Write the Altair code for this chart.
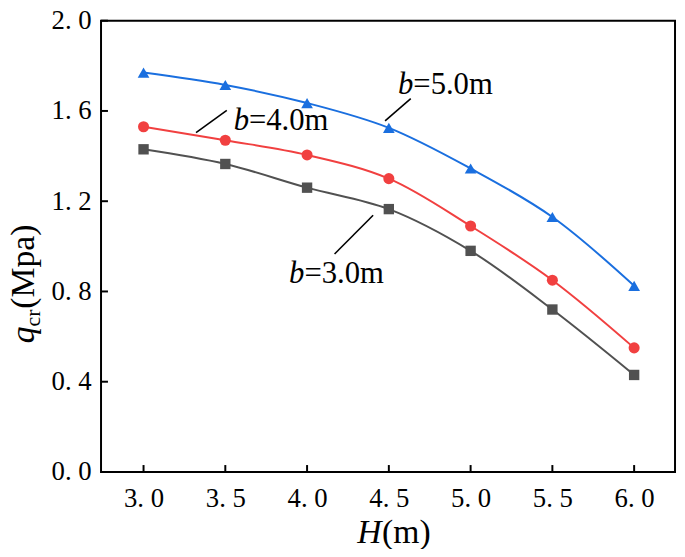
import altair as alt
import pandas as pd

# ---------------- data ----------------
H = [3.0, 3.5, 4.0, 4.5, 5.0, 5.5, 6.0]
q_b3 = [1.43, 1.365, 1.26, 1.165, 0.98, 0.72, 0.43]
q_b4 = [1.53, 1.47, 1.405, 1.30, 1.09, 0.85, 0.55]
q_b5 = [1.77, 1.715, 1.635, 1.525, 1.345, 1.13, 0.825]

series_names = ["b=3.0m", "b=4.0m", "b=5.0m"]
colors = ["#515151", "#F14040", "#1A6FDF"]
shapes = ["square", "circle", "triangle-up"]
marker_sizes = [110, 140, 170]

x_ticks = [3.0, 3.5, 4.0, 4.5, 5.0, 5.5, 6.0]
y_ticks = [0.0, 0.4, 0.8, 1.2, 1.6, 2.0]

# annotation texts (italic "b" + rest) and their anchor in data units
ann_b = ["b", "b", "b"]
ann_rest = ["=3.0m", "=4.0m", "=5.0m"]
ann_x = [3.890, 3.551, 4.556]
ann_y = [0.836, 1.517, 1.677]
# leader lines in data units
lead_x = [4.404, 3.321, 4.477]
lead_y = [1.138, 1.504, 1.556]
lead_x2 = [4.168, 3.509, 4.634]
lead_y2 = [0.966, 1.603, 1.655]

# ---------------- build ----------------
W, HT = 580, 456
FONT = "Liberation Serif"

rows = []
for name, vals in zip(series_names, [q_b3, q_b4, q_b5]):
    for h, q in zip(H, vals):
        rows.append({"H": h, "q": q, "series": name})
df = pd.DataFrame(rows)

xscale = alt.Scale(domain=[2.74, 6.25], nice=False, zero=False)
yscale = alt.Scale(domain=[0, 2], nice=False, zero=False)

label_expr = "replace(format(datum.value, '.1f'), '.', '. ')"
xaxis = alt.Axis(values=x_ticks, title=None, domain=False, ticks=False, tickSize=0,
                 grid=False, labelExpr=label_expr, labelFont=FONT, labelFontSize=27,
                 labelColor="black", labelPadding=14, labelOverlap=False, labelBound=False)
yaxis = alt.Axis(values=y_ticks, title=None, domain=False, ticks=False, tickSize=0,
                 grid=False, labelExpr=label_expr, labelFont=FONT, labelFontSize=27,
                 labelColor="black", labelPadding=10, labelOverlap=False, labelBound=False)


def X(f):
    return alt.X(f, type="quantitative", scale=xscale, axis=xaxis, title=None)


def Y(f):
    return alt.Y(f, type="quantitative", scale=yscale, axis=yaxis, title=None)


color_enc = alt.Color("series:N", scale=alt.Scale(domain=series_names, range=colors), legend=None)

lines = alt.Chart(df).mark_line(interpolate="catmull-rom", strokeWidth=2).encode(
    x=X("H"), y=Y("q"), color=color_enc, detail="series:N"
)
points = alt.Chart(df).mark_point(filled=True, opacity=1).encode(
    x=X("H"), y=Y("q"), color=color_enc,
    shape=alt.Shape("series:N", scale=alt.Scale(domain=series_names, range=shapes), legend=None),
    size=alt.Size("series:O", scale=alt.Scale(domain=series_names, range=marker_sizes), legend=None),
)

xt = alt.Chart(pd.DataFrame({"t": x_ticks})).mark_rule(color="black", strokeWidth=2).encode(
    x=X("t"), y=alt.value(HT), y2=alt.value(HT - 7)
)
yt = alt.Chart(pd.DataFrame({"t": y_ticks})).mark_rule(color="black", strokeWidth=2).encode(
    y=Y("t"), x=alt.value(0), x2=alt.value(7)
)

ann_df = pd.DataFrame({"b": ann_b, "rest": ann_rest, "x": ann_x, "y": ann_y})
ann1 = alt.Chart(ann_df).mark_text(font=FONT, fontStyle="italic", fontSize=31, align="left",
                                   baseline="alphabetic", color="black").encode(
    x=X("x"), y=Y("y"), text="b:N")
ann2 = alt.Chart(ann_df).mark_text(font=FONT, fontSize=31, align="left", dx=15.5,
                                   baseline="alphabetic", color="black").encode(
    x=X("x"), y=Y("y"), text="rest:N")

lead_df = pd.DataFrame({"x": lead_x, "y": lead_y, "x2": lead_x2, "y2": lead_y2})
leads = alt.Chart(lead_df).mark_rule(color="black", strokeWidth=1.6).encode(
    x=X("x"), y=Y("y"), x2="x2:Q", y2="y2:Q")

# axis titles composed of several text pieces
xt1 = alt.Chart(pd.DataFrame({"t": ["H"]})).mark_text(
    font=FONT, fontStyle="italic", fontSize=34, align="left", baseline="alphabetic", color="black"
).encode(x=alt.value(259), y=alt.value(528), text="t:N")
xt2 = alt.Chart(pd.DataFrame({"t": ["(m)"]})).mark_text(
    font=FONT, fontSize=34, align="left", baseline="alphabetic", color="black", dx=25
).encode(x=alt.value(259), y=alt.value(528), text="t:N")

YT_X, YT_Y = -68, 326
yt1 = alt.Chart(pd.DataFrame({"t": ["q"]})).mark_text(
    font=FONT, fontStyle="italic", fontSize=34, align="left", baseline="alphabetic",
    color="black", angle=270
).encode(x=alt.value(YT_X), y=alt.value(YT_Y), text="t:N")
yt2 = alt.Chart(pd.DataFrame({"t": ["cr"]})).mark_text(
    font=FONT, fontSize=22, align="left", baseline="alphabetic",
    color="black", angle=270, dx=17, dy=6
).encode(x=alt.value(YT_X), y=alt.value(YT_Y), text="t:N")
yt3 = alt.Chart(pd.DataFrame({"t": ["(Mpa)"]})).mark_text(
    font=FONT, fontSize=34, align="left", baseline="alphabetic",
    color="black", angle=270, dx=35
).encode(x=alt.value(YT_X), y=alt.value(YT_Y), text="t:N")

chart = alt.layer(
    lines, points, xt, yt, leads, ann1, ann2, xt1, xt2, yt1, yt2, yt3
).properties(
    width=W, height=HT,
    autosize=alt.AutoSizeParams(type="none"),
    padding={"left": 94, "top": 10, "right": 2, "bottom": 75},
    background="white",
).configure_view(stroke="black", strokeWidth=2)

chart.save("out.html", embed_options={"renderer": "svg", "actions": False})
